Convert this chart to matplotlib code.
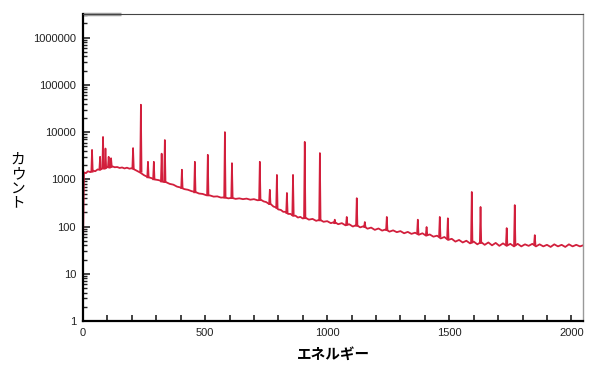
import numpy as np
import matplotlib
matplotlib.use('Agg')
import matplotlib.pyplot as plt
from matplotlib.ticker import FixedLocator, FixedFormatter, LogLocator, NullFormatter, MultipleLocator

plt.rcParams['font.family'] = ['Liberation Sans', 'Noto Sans CJK JP', 'DejaVu Sans']

# continuum (energy, counts), including its noise
base_e = [0, 4, 12, 20, 30, 40, 50, 60, 70, 80, 90, 100, 110, 120, 130, 140, 150,
          160, 170, 180, 190, 200, 210, 220, 235, 250, 265, 280, 295, 310, 325,
          340, 355, 370, 385, 400, 415, 430, 445, 460, 475, 490, 505, 520, 535,
          550, 565, 580, 595, 610, 625, 640, 655, 670, 685, 700, 715, 730, 740,
          750, 760, 770, 780, 790, 800, 810, 820, 830, 840, 850, 860, 870, 880,
          890, 900, 910, 925, 940, 955, 970, 985, 1000, 1015, 1030, 1045, 1060,
          1075, 1090, 1105, 1120, 1135, 1150, 1165, 1180, 1195, 1210, 1225, 1240,
          1255, 1270, 1285, 1300, 1315, 1330, 1345, 1360, 1375, 1390, 1405, 1420,
          1435, 1450, 1465, 1480, 1495, 1510, 1525, 1540, 1555, 1570, 1585, 1600,
          1615, 1630, 1645, 1660, 1675, 1690, 1705, 1720, 1735, 1750, 1765, 1780,
          1795, 1810, 1825, 1840, 1855, 1870, 1885, 1900, 1915, 1930, 1945, 1960,
          1975, 1990, 2005, 2020, 2035, 2048]
base_c = [40, 1400, 1350, 1480, 1420, 1530, 1480, 1620, 1580, 1720, 1680, 1830, 1760,
          1880, 1800, 1820, 1740, 1780, 1700, 1760, 1680, 1720, 1620, 1520, 1380,
          1220, 1120, 1060, 990, 960, 900, 870, 800, 770, 700, 670, 620, 600, 560,
          540, 500, 490, 460, 455, 430, 435, 410, 415, 395, 405, 385, 395, 380,
          390, 370, 380, 360, 365, 340, 330, 305, 295, 265, 255, 230, 225, 205,
          205, 185, 185, 168, 170, 155, 160, 148, 155, 140, 145, 132, 140, 126,
          130, 118, 125, 112, 118, 106, 112, 100, 108, 96, 102, 90, 95, 85, 91,
          82, 87, 78, 83, 76, 80, 72, 77, 70, 74, 67, 72, 64, 68, 61, 64, 56, 60,
          52, 55, 48, 52, 46, 50, 44, 48, 42, 47, 41, 46, 40, 45, 39, 44, 39, 43,
          38, 43, 38, 42, 39, 43, 38, 42, 38, 41, 37, 42, 38, 41, 37, 42, 38, 41,
          38, 40]

# peaks: centre energy, top counts, foot counts
peak_e = [37, 70, 82, 92, 105, 115, 205, 237, 266, 290, 322, 335, 405, 458, 511,
          581, 610, 724, 765, 794, 835, 860, 908, 970, 1031, 1080, 1121, 1154, 1244,
          1371, 1407, 1461, 1494, 1592, 1628, 1735, 1768, 1850]
peak_top = [4200, 3000, 7900, 4500, 3000, 2800, 4600, 38000, 2350, 2350, 3500, 6800,
            1600, 2350, 3300, 10000, 2200, 2350, 600, 1240, 515, 1240, 6200, 3600,
            140, 160, 400, 125, 160, 140, 98, 160, 150, 540, 260, 93, 285, 66]
peak_foot = [1450, 1650, 1700, 1750, 1800, 1850, 1700, 1450, 1100, 1000, 900, 880,
             650, 530, 460, 410, 400, 365, 300, 250, 195, 175, 150, 135, 118, 110,
             104, 98, 84, 72, 68, 62, 56, 46, 45, 42, 41, 42]

xticks = [0, 500, 1000, 1500, 2000]
yticks = [1, 10, 100, 1000, 10000, 100000, 1000000]
ytick_labels = ['1', '10', '100', '1000', '10000', '100000', '1000000']

line_color = '#d21f3c'

fig = plt.figure(figsize=(5.95, 3.74), dpi=100)
ax = fig.add_axes([0.1395, 0.1417, 0.8405, 0.8209])

ax.plot(base_e, base_c, color=line_color, lw=1.3)
for e, top, foot in zip(peak_e, peak_top, peak_foot):
    ax.plot([e - 3, e, e + 3], [foot, top, foot], color=line_color, lw=1.2)

ax.set_yscale('log')
ax.set_xlim(0, 2048)
ax.set_ylim(1, 10 ** 6.5)

ax.xaxis.set_major_locator(FixedLocator(xticks))
ax.xaxis.set_minor_locator(MultipleLocator(100))
ax.yaxis.set_major_locator(FixedLocator(yticks))
ax.yaxis.set_major_formatter(FixedFormatter(ytick_labels))
ax.yaxis.set_minor_locator(LogLocator(base=10, subs=np.arange(2, 10)))
ax.yaxis.set_minor_formatter(NullFormatter())

ax.tick_params(axis='both', which='both', direction='in', labelsize=8,
               colors='#222222', top=False, right=False)
ax.tick_params(axis='x', which='both', length=4, width=1.2, pad=5)
ax.tick_params(axis='y', which='major', length=5, width=1.2, pad=5)
ax.tick_params(axis='y', which='minor', length=3, width=1.0)

ax.spines['left'].set_linewidth(1.6)
ax.spines['bottom'].set_linewidth(1.6)
ax.spines['top'].set_color('#444444')
ax.spines['top'].set_linewidth(0.8)
ax.spines['right'].set_color('#999999')
ax.spines['right'].set_linewidth(1.0)
ax.plot([0, 0.075], [1, 1], transform=ax.transAxes, color='#a0a0a0', lw=2.5,
        clip_on=False, solid_capstyle='butt')

ax.set_xlabel('エネルギー', fontsize=10.5, fontweight='bold', labelpad=6,
              family=['Noto Sans CJK JP', 'DejaVu Sans'])
fig.text(0.03, 0.515, 'カ\nウ\nン\nト', fontsize=10.5, ha='center', va='center',
         linespacing=1.05, family=['Noto Sans CJK JP', 'DejaVu Sans'])

fig.savefig('out.png', dpi=100, facecolor='white')
